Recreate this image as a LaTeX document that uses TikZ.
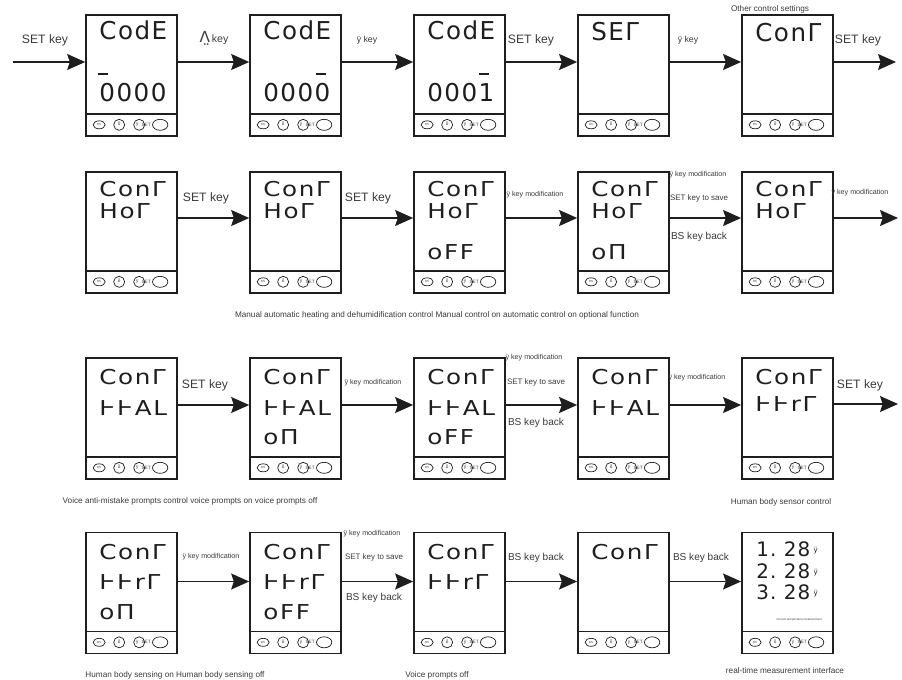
\documentclass[tikz,border=0pt]{standalone}
\usepackage{fontspec}
\setmainfont{Liberation Sans}
\newfontfamily\lcdfont{DejaVu Sans}[LetterSpace=6]
\newfontfamily\lcdwide{DejaVu Sans}[FakeStretch=1.2,LetterSpace=8]
\newfontfamily\dvs{DejaVu Sans}
\usepackage{tikz}
\usetikzlibrary{arrows.meta,calc,positioning}
\definecolor{ink}{HTML}{1E1E1E}
\definecolor{pen}{HTML}{3A3A3A}
\tikzset{
  >={Stealth[length=5.4mm,width=4.8mm,inset=0.8mm]},
  every node/.style={text=pen},
  scr/.style={draw=ink,line width=1.4pt,minimum width=2.73cm,minimum height=3.63cm,inner sep=0pt},
  lcd/.style={font=\lcdwide\fontsize{17.5}{17.5}\selectfont,text=ink,inner sep=0pt,anchor=west},
  lcdbig/.style={font=\lcdfont\fontsize{21}{21}\selectfont},
  flow/.style={->,draw=ink,line width=1.1pt},
  keylab/.style={font=\fontsize{10.4}{12}\selectfont},
  keyb/.style={font=\fontsize{8.6}{10}\selectfont},
  keyl/.style={font=\fontsize{7.5}{9}\selectfont},
  keys/.style={font=\fontsize{6.8}{8}\selectfont},
  keyt/.style={font=\fontsize{6.1}{7}\selectfont},
  capt/.style={font=\fontsize{7}{8}\selectfont},
  btn/.style={inner sep=0pt,font=\fontsize{4}{4}\selectfont},
}
% key panel under a screen
\newcommand{\keypad}[1]{%
  \draw[ink,line width=1.2pt] ($(#1.south west)+(0,-23)$) -- ($(#1.south east)+(0,-23)$);
  \draw[ink,line width=0.6pt] ($(#1.south west)+(14,-12)$) ellipse [x radius=0.18cm,y radius=0.12cm]
    ($(#1.south west)+(34,-12)$) circle [radius=0.165cm]
    ($(#1.south west)+(54,-12)$) circle [radius=0.165cm]
    ($(#1.south west)+(75,-12)$) ellipse [x radius=0.23cm,y radius=0.165cm];
  \node[btn,font=\fontsize{2.5}{2.5}\selectfont] (#1-bs) at ($(#1.south west)+(14,-12)$) {BS};
  \node[btn] (#1-pw) at ($(#1.south west)+(34,-13)$) {δ};
  \node[btn] (#1-up) at ($(#1.south west)+(52,-12)$) {ÿ};
  \node[btn] (#1-set) at ($(#1.south west)+(61,-12)$) {SET};
}
% segment lines of a screen
\newcommand{\lcdtext}[3][]{%
  \foreach \dy/\txt [count=\k] in {#3}
    \node[lcd,#1] (#2-t\k) at ($(#2.north west)+(14,\dy)$) {\txt};
}

\begin{document}
\begin{tikzpicture}[x=0.03cm,y=-0.03cm,node distance=2.14cm]
  \useasboundingbox (0,0) rectangle (902,680);

  % screens
  \node[scr] (s11) at (131.5,75.5) {};
  \node[scr,right=of s11] (s12) {};
  \node[scr,right=of s12] (s13) {};
  \node[scr,right=of s13] (s14) {};
  \node[scr,right=of s14] (s15) {};
  \node[scr] (s21) at (131.5,232.5) {};
  \node[scr,right=of s21] (s22) {};
  \node[scr,right=of s22] (s23) {};
  \node[scr,right=of s23] (s24) {};
  \node[scr,right=of s24] (s25) {};
  \node[scr] (s31) at (131.5,418.5) {};
  \node[scr,right=of s31] (s32) {};
  \node[scr,right=of s32] (s33) {};
  \node[scr,right=of s33] (s34) {};
  \node[scr,right=of s34] (s35) {};
  \node[scr] (s41) at (131.5,593) {};
  \node[scr,right=of s41] (s42) {};
  \node[scr,right=of s42] (s43) {};
  \node[scr,right=of s43] (s44) {};
  \node[scr,right=of s44] (s45) {};

  \foreach \s in {s11,s12,s13,s14,s15,s21,s22,s23,s24,s25,s31,s32,s33,s34,s35,s41,s42,s43,s44,s45}
    {\keypad{\s}}

  \lcdtext[lcdbig]{s11}{16/CodE,78/0000}
  \lcdtext[lcdbig]{s12}{16/CodE,78/0000}
  \lcdtext[lcdbig]{s13}{16/CodE,78/0001}
  \lcdtext[lcdbig]{s14}{17/SEΓ}
  \lcdtext[lcdbig]{s15}{18/ConΓ}
  \draw[ink,line width=1.4pt] ($(s11.north west)+(13,60)$) -- ++(10,0);
  \draw[ink,line width=1.4pt] ($(s12.north west)+(67,60)$) -- ++(10,0);
  \draw[ink,line width=1.4pt] ($(s13.north west)+(66,60)$) -- ++(10,0);

  \lcdtext{s21}{18/ConΓ,40/HoΓ}
  \lcdtext{s22}{18/ConΓ,40/HoΓ}
  \lcdtext{s23}{18/ConΓ,40/HoΓ,81/oFF}
  \lcdtext{s24}{18/ConΓ,40/HoΓ,81/oΠ}
  \lcdtext{s25}{18/ConΓ,40/HoΓ}

  \lcdtext{s31}{20/ConΓ,51/ͰͰAL}
  \lcdtext{s32}{20/ConΓ,51/ͰͰAL,80/oΠ}
  \lcdtext{s33}{20/ConΓ,51/ͰͰAL,80/oFF}
  \lcdtext{s34}{20/ConΓ,51/ͰͰAL}
  \lcdtext{s35}{20/ConΓ,47/ͰͰrΓ}

  \lcdtext{s41}{20/ConΓ,50/ͰͰrΓ,80/oΠ}
  \lcdtext{s42}{20/ConΓ,50/ͰͰrΓ,80/oFF}
  \lcdtext{s43}{20/ConΓ,50/ͰͰrΓ}
  \lcdtext{s44}{20/ConΓ}
  \foreach \dy/\n in {18/1,40/2,61/3}
    \node[lcd,font=\lcdfont\fontsize{17}{17}\selectfont] (s45-t\n) at ($(s45.north west)+(15,\dy)$)
      {\n.\hspace{2.2mm}28\,\raisebox{1.3mm}{\fontsize{6}{6}\selectfont ÿ}};
  \node[inner sep=0pt,font=\fontsize{2.5}{3}\selectfont] (s45-t4) at ($(s45.north west)+(58,88)$) {Current temperature measurement};

  % connectors
  \coordinate (in1) at (13,62);
  \coordinate (out1) at (896,62);
  \coordinate (out2) at (898,218);
  \coordinate (out3) at (898,404);
  \draw[flow] (in1) -- (in1 -| s11.west);
  \foreach \a/\b in {s11/s12,s12/s13,s13/s14,s14/s15}
    \draw[flow] ([yshift=4.05mm]\a.east) -- ([yshift=4.05mm]\b.west);
  \draw[flow] (s15.east |- out1) -- (out1);
  \foreach \a/\b in {s21/s22,s22/s23,s23/s24,s24/s25}
    \draw[flow] ([yshift=4.35mm]\a.east) -- ([yshift=4.35mm]\b.west);
  \draw[flow] (s25.east |- out2) -- (out2);
  \foreach \a/\b in {s31/s32,s32/s33,s33/s34,s34/s35}
    \draw[flow] ([yshift=4.05mm]\a.east) -- ([yshift=4.05mm]\b.west);
  \draw[flow] (s35.east |- out3) -- (out3);
  \foreach \a/\b in {s41/s42,s42/s43,s43/s44,s44/s45}
    \draw[flow] ([yshift=3.45mm]\a.east) -- ([yshift=3.45mm]\b.west);

  % labels, row 1
  \node[keylab] (lin) at (45,40) {SET key};
  \node[font=\fontsize{9}{10}\selectfont] (l12) at (214,38) {{\dvs\fontsize{13}{13}\selectfont Λ̤}\,key};
  \node[keyl] (l23) at (367,40) {ÿ key};
  \node[keylab] (l34) at (531,40) {SET key};
  \node[keyl] (l45) at (688,40) {ÿ key};
  \node[keylab] (l5o) at (858,40) {SET key};
  \node[capt] (c1) at (770,9) {Other control settings};

  % labels, row 2
  \node[keylab] (m12) at (206,198) {SET key};
  \node[keylab] (m23) at (368,198) {SET key};
  \node[keyt] (m34) at (535,195) {ÿ key modification};
  \node[keyt] (m45a) at (698,175) {ÿ key modification};
  \node[keys] (m45b) at (699,198) {SET key to save};
  \node[keyb] (m45c) at (699,237) {BS key back};
  \node[keyt] (m5o) at (860,193) {ÿ key modification};
  \node[capt] (c2) at (437,315) {Manual automatic heating and dehumidification control Manual control on automatic control on optional function};

  % labels, row 3
  \node[keylab] (n12) at (205,385) {SET key};
  \node[keyt] (n23) at (373,383) {ÿ key modification};
  \node[keyt] (n34a) at (534,358) {ÿ key modification};
  \node[keys] (n34b) at (536,382) {SET key to save};
  \node[keyb] (n34c) at (536,423) {BS key back};
  \node[keyt] (n45) at (697,378) {ÿ key modification};
  \node[keylab] (n5o) at (860,385) {SET key};
  \node[capt] (c3a) at (190,501) {Voice anti-mistake prompts control voice prompts on voice prompts off};
  \node[capt] (c3b) at (781,502) {Human body sensor control};

  % labels, row 4
  \node[keyt] (p12) at (211,557) {ÿ key modification};
  \node[keyt] (p23a) at (372,534) {ÿ key modification};
  \node[keys] (p23b) at (374,557) {SET key to save};
  \node[keyb] (p23c) at (374,598) {BS key back};
  \node[keyb] (p34) at (536,558) {BS key back};
  \node[keyb] (p45) at (701,558) {BS key back};
  \node[capt] (c4a) at (175,675) {Human body sensing on Human body sensing off};
  \node[capt] (c4b) at (437,675) {Voice prompts off};
  \node[capt] (c4c) at (785,671) {real-time measurement interface};
\end{tikzpicture}
\end{document}
